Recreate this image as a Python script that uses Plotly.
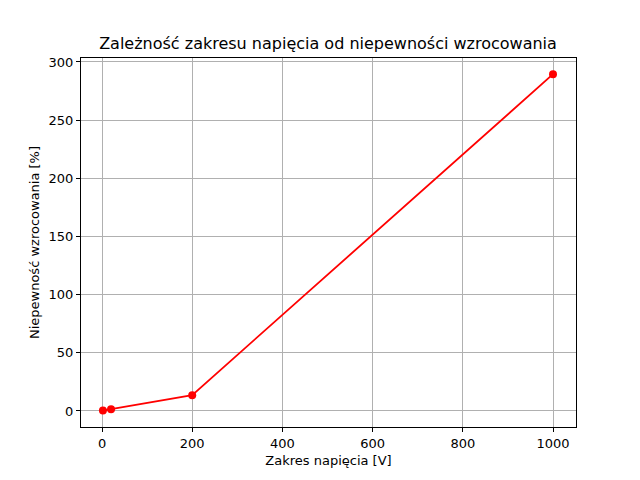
import plotly.graph_objects as go

# voltage ranges and calibration uncertainty
zakres = [2, 20, 200, 1000]
niepewnosc = [0.4, 1.5, 13.6, 289.5]

fig = go.Figure()
fig.add_trace(go.Scatter(
    x=zakres, y=niepewnosc, mode="lines+markers",
    line=dict(color="red", width=1.8),
    marker=dict(color="red", size=8),
))

axis = dict(
    showgrid=True, gridcolor="#b0b0b0", gridwidth=1,
    showline=True, linecolor="black", mirror=True, linewidth=1,
    ticks="outside", ticklen=4, tickcolor="black", automargin=False,
    zeroline=False, tickfont=dict(size=13, color="black"),
)
fig.update_xaxes(axis, range=[-46.6, 1051], tickvals=[0, 200, 400, 600, 800, 1000],
                 title=dict(text="Zakres napięcia [V]", font=dict(size=13, color="black"), standoff=6))
fig.update_yaxes(axis, range=[-13.8, 303.4], tickvals=[0, 50, 100, 150, 200, 250, 300],
                 title=dict(text="Niepewność wzrocowania [%]", font=dict(size=13, color="black"), standoff=6))

fig.update_layout(
    width=640, height=480,
    margin=dict(l=73, r=72, t=50, b=61),
    plot_bgcolor="white", paper_bgcolor="white",
    font=dict(family="DejaVu Sans"),
    showlegend=False,
    title=dict(text="Zależność zakresu napięcia od niepewności wzrocowania",
               x=0.5, xanchor="center", y=0.927, yanchor="middle",
               font=dict(size=16, color="black")),
)

fig.write_html("out.html")
